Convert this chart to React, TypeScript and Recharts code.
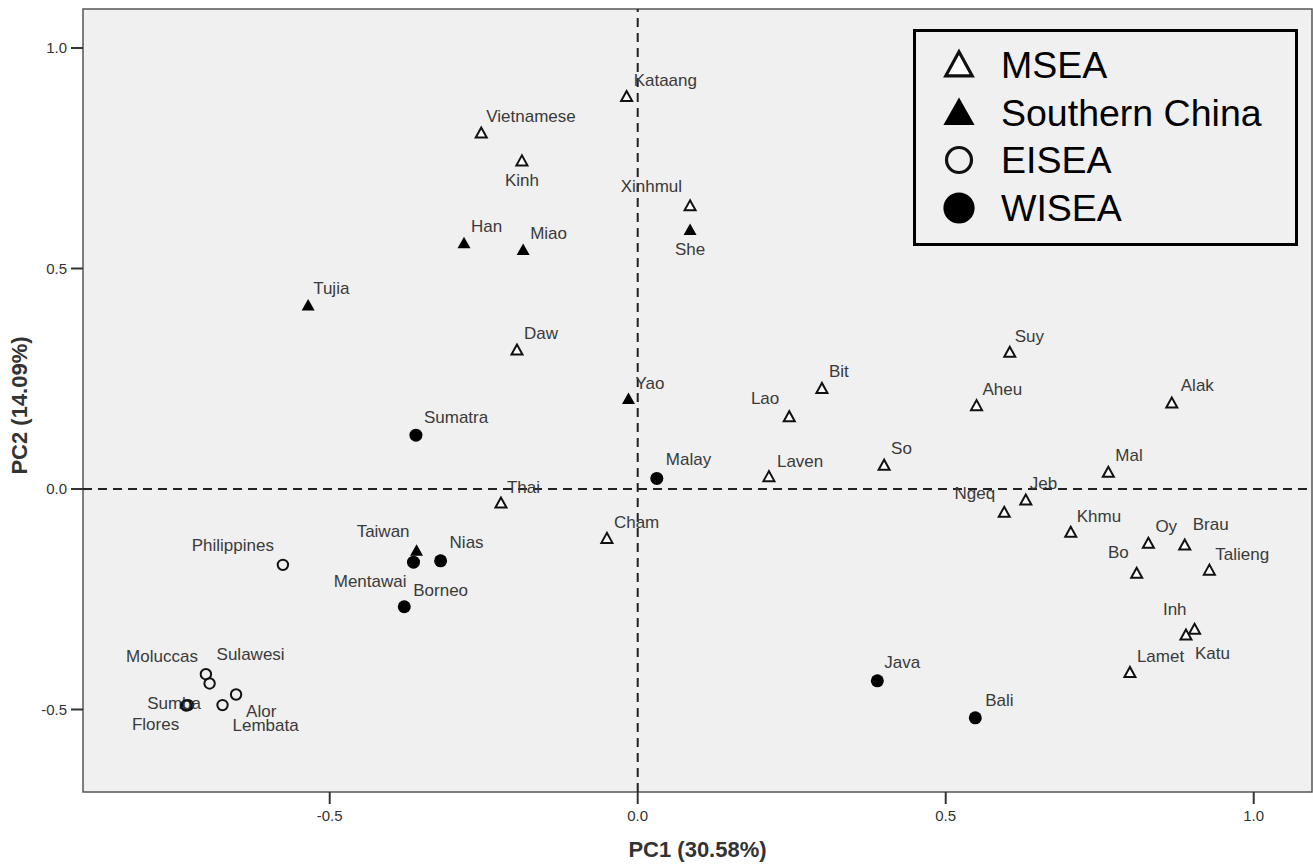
import {
  ReferenceArea,
  ReferenceLine,
  Scatter,
  ScatterChart,
  XAxis,
  YAxis,
} from "recharts";

type Pop = { name: string; x: number; y: number };

// PC scores
const msea: Pop[] = [
  { name: "Kataang", x: -0.018, y: 0.89 },
  { name: "Vietnamese", x: -0.254, y: 0.807 },
  { name: "Kinh", x: -0.188, y: 0.744 },
  { name: "Xinhmul", x: 0.085, y: 0.642 },
  { name: "Daw", x: -0.196, y: 0.315 },
  { name: "Lao", x: 0.246, y: 0.164 },
  { name: "Bit", x: 0.299, y: 0.228 },
  { name: "Suy", x: 0.604, y: 0.31 },
  { name: "Aheu", x: 0.55, y: 0.189 },
  { name: "Alak", x: 0.867, y: 0.195 },
  { name: "So", x: 0.4, y: 0.054 },
  { name: "Laven", x: 0.213, y: 0.028 },
  { name: "Mal", x: 0.764, y: 0.038 },
  { name: "Ngeq", x: 0.595, y: -0.053 },
  { name: "Jeb", x: 0.63, y: -0.025 },
  { name: "Khmu", x: 0.703, y: -0.098 },
  { name: "Oy", x: 0.829, y: -0.123 },
  { name: "Brau", x: 0.888, y: -0.127 },
  { name: "Bo", x: 0.81, y: -0.191 },
  { name: "Talieng", x: 0.928, y: -0.184 },
  { name: "Inh", x: 0.904, y: -0.318 },
  { name: "Katu", x: 0.89, y: -0.331 },
  { name: "Lamet", x: 0.799, y: -0.416 },
  { name: "Thai", x: -0.222, y: -0.032 },
  { name: "Cham", x: -0.05, y: -0.112 },
];

const southernChina: Pop[] = [
  { name: "Han", x: -0.282, y: 0.557 },
  { name: "Miao", x: -0.186, y: 0.542 },
  { name: "She", x: 0.085, y: 0.587 },
  { name: "Tujia", x: -0.535, y: 0.416 },
  { name: "Yao", x: -0.015, y: 0.204 },
  { name: "Taiwan", x: -0.359, y: -0.14 },
];

const eisea: Pop[] = [
  { name: "Philippines", x: -0.576, y: -0.172 },
  { name: "Moluccas", x: -0.701, y: -0.42 },
  { name: "Sulawesi", x: -0.695, y: -0.441 },
  { name: "Sumba", x: -0.73, y: -0.49 },
  { name: "Flores", x: -0.733, y: -0.491 },
  { name: "Alor", x: -0.652, y: -0.466 },
  { name: "Lembata", x: -0.674, y: -0.49 },
];

const wisea: Pop[] = [
  { name: "Sumatra", x: -0.36, y: 0.122 },
  { name: "Malay", x: 0.031, y: 0.024 },
  { name: "Mentawai", x: -0.364, y: -0.166 },
  { name: "Nias", x: -0.32, y: -0.163 },
  { name: "Borneo", x: -0.379, y: -0.267 },
  { name: "Java", x: 0.389, y: -0.435 },
  { name: "Bali", x: 0.548, y: -0.519 },
];

const xTicks = [-0.5, 0, 0.5, 1.0];
const yTicks = [-0.5, 0, 0.5, 1.0];
const X_DOMAIN: [number, number] = [-0.9005, 1.0946];
const Y_DOMAIN: [number, number] = [-0.6871, 1.0884];

// where each point label sits relative to its marker: [dx, dy, anchor]
type Anchor = "start" | "middle" | "end";
const labelSpots: Record<string, [number, number, Anchor]> = {
  Kataang: [7, -16, "start"],
  Vietnamese: [5, -17, "start"],
  Kinh: [0, 19, "middle"],
  Xinhmul: [-8, -20, "end"],
  Han: [7, -17, "start"],
  Miao: [7, -17, "start"],
  She: [0, 19, "middle"],
  Tujia: [5, -17, "start"],
  Daw: [7, -17, "start"],
  Yao: [7, -16, "start"],
  Lao: [-10, -19, "end"],
  Bit: [7, -17, "start"],
  Suy: [5, -16, "start"],
  Aheu: [6, -17, "start"],
  Alak: [9, -18, "start"],
  Malay: [9, -19, "start"],
  Laven: [8, -16, "start"],
  So: [7, -17, "start"],
  Cham: [7, -16, "start"],
  Ngeq: [-9, -19, "end"],
  Jeb: [4, -17, "start"],
  Mal: [7, -17, "start"],
  Khmu: [6, -16, "start"],
  Oy: [7, -17, "start"],
  Brau: [8, -21, "start"],
  Bo: [-8, -21, "end"],
  Talieng: [6, -16, "start"],
  Inh: [-8, -20, "end"],
  Katu: [9, 18, "start"],
  Lamet: [7, -16, "start"],
  Thai: [6, -16, "start"],
  Taiwan: [-7, -20, "end"],
  Nias: [9, -19, "start"],
  Mentawai: [-7, 19, "end"],
  Borneo: [9, -17, "start"],
  Sumatra: [8, -18, "start"],
  Philippines: [-9, -20, "end"],
  Moluccas: [-8, -18, "end"],
  Sulawesi: [7, -29, "start"],
  Sumba: [13, -2, "end"],
  Flores: [-7, 19, "end"],
  Alor: [10, 17, "start"],
  Lembata: [10, 20, "start"],
  Java: [7, -19, "start"],
  Bali: [10, -18, "start"],
};

const FONT = "'Liberation Sans', Arial, sans-serif";

type Kind = "openTri" | "tri" | "openDot" | "dot";

function Marker({ kind, cx, cy, s = 1 }: { kind: Kind; cx: number; cy: number; s?: number }) {
  if (kind === "openTri" || kind === "tri") {
    const w = (kind === "tri" ? 6.5 : 5.5) * s;
    const up = (kind === "tri" ? 6.5 : 5.5) * s;
    const down = (kind === "tri" ? 5 : 4.5) * s;
    const pts = `${cx},${cy - up} ${cx - w},${cy + down} ${cx + w},${cy + down}`;
    return kind === "tri" ? (
      <polygon points={pts} fill="#000" />
    ) : (
      <polygon points={pts} fill="#fff" stroke="#111" strokeWidth={2 * Math.min(s, 1.6)} strokeLinejoin="miter" />
    );
  }
  if (kind === "openDot") {
    return <circle cx={cx} cy={cy} r={5.2 * s} fill="none" stroke="#111" strokeWidth={2 * Math.min(s, 1.6)} />;
  }
  return <circle cx={cx} cy={cy} r={6.5 * s} fill="#000" />;
}

const pointShape = (kind: Kind) => (props: any) => {
  const { cx, cy, payload } = props;
  const [dx, dy, anchor] = labelSpots[payload.name] ?? [7, -16, "start"];
  return (
    <g>
      <Marker kind={kind} cx={cx} cy={cy} />
      <text
        x={cx + dx}
        y={cy + dy}
        dy="0.35em"
        textAnchor={anchor}
        fontSize={17}
        fontFamily={FONT}
        fill="#3a3a3a"
      >
        {payload.name}
      </text>
    </g>
  );
};

const legendItems: { label: string; kind: Kind }[] = [
  { label: "MSEA", kind: "openTri" },
  { label: "Southern China", kind: "tri" },
  { label: "EISEA", kind: "openDot" },
  { label: "WISEA", kind: "dot" },
];

function YTitle(props: any) {
  const vb = props.viewBox ?? { x: 0, y: 9, width: 83, height: 783 };
  const x = vb.x + 19;
  const y = vb.y + vb.height / 2 + 5;
  return (
    <text
      x={x}
      y={y}
      transform={`rotate(-90 ${x} ${y})`}
      textAnchor="middle"
      dy="0.35em"
      fontSize={22}
      fontWeight="bold"
      fontFamily={FONT}
      fill="#333"
    >
      PC2 (14.09%)
    </text>
  );
}

export default function App() {
  const tickStyle = { fill: "#333", fontSize: 15, fontFamily: FONT };
  return (
    <div style={{ position: "absolute", left: 0, top: 0, width: 1313, height: 864, background: "#fff" }}>
      <ScatterChart width={1313} height={864} margin={{ top: 9, right: 1, bottom: 0, left: 0 }}>
        <XAxis
          dataKey="x"
          type="number"
          domain={X_DOMAIN}
          ticks={xTicks}
          allowDataOverflow
          tickFormatter={(v: number) => v.toFixed(1)}
          height={72}
          axisLine={false}
          tickSize={12}
          tickMargin={6}
          tickLine={{ stroke: "#333", strokeWidth: 2 }}
          tick={tickStyle}
          label={{
            value: "PC1 (30.58%)",
            position: "insideBottom",
            offset: 7,
            fill: "#333",
            fontSize: 22,
            fontWeight: "bold",
            fontFamily: FONT,
          }}
        />
        <YAxis
          dataKey="y"
          type="number"
          domain={Y_DOMAIN}
          ticks={yTicks}
          allowDataOverflow
          tickFormatter={(v: number) => v.toFixed(1)}
          width={83}
          axisLine={false}
          tickSize={12}
          tickMargin={4}
          tickLine={{ stroke: "#333", strokeWidth: 2 }}
          tick={tickStyle}
          label={<YTitle />}
        />
        <ReferenceArea
          x1={X_DOMAIN[0]}
          x2={X_DOMAIN[1]}
          y1={Y_DOMAIN[0]}
          y2={Y_DOMAIN[1]}
          fill="#f0f0f0"
          fillOpacity={1}
          stroke="#555"
          strokeWidth={1.5}
        />
        <ReferenceLine x={0} stroke="#222" strokeWidth={2} strokeDasharray="9 6" />
        <ReferenceLine y={0} stroke="#222" strokeWidth={2} strokeDasharray="9 6" />
        <Scatter name="MSEA" data={msea} shape={pointShape("openTri")} isAnimationActive={false} />
        <Scatter name="Southern China" data={southernChina} shape={pointShape("tri")} isAnimationActive={false} />
        <Scatter name="EISEA" data={eisea} shape={pointShape("openDot")} isAnimationActive={false} />
        <Scatter name="WISEA" data={wisea} shape={pointShape("dot")} isAnimationActive={false} />
      </ScatterChart>

      <div
        style={{
          position: "absolute",
          left: 913,
          top: 29,
          width: 385,
          height: 217,
          boxSizing: "border-box",
          border: "3.5px solid #000",
          background: "#f0f0f0",
          fontFamily: FONT,
        }}
      >
        {legendItems.map((item, i) => (
          <div
            key={item.label}
            style={{
              position: "absolute",
              left: 25,
              top: 13 + i * 47.5,
              height: 40,
              display: "flex",
              alignItems: "center",
              whiteSpace: "nowrap",
            }}
          >
            <svg width={36} height={36} style={{ marginRight: 24 }}>
              <Marker kind={item.kind} cx={18} cy={18} s={2.4} />
            </svg>
            <span style={{ fontSize: 37.5, color: "#000", lineHeight: "40px" }}>{item.label}</span>
          </div>
        ))}
      </div>
    </div>
  );
}
